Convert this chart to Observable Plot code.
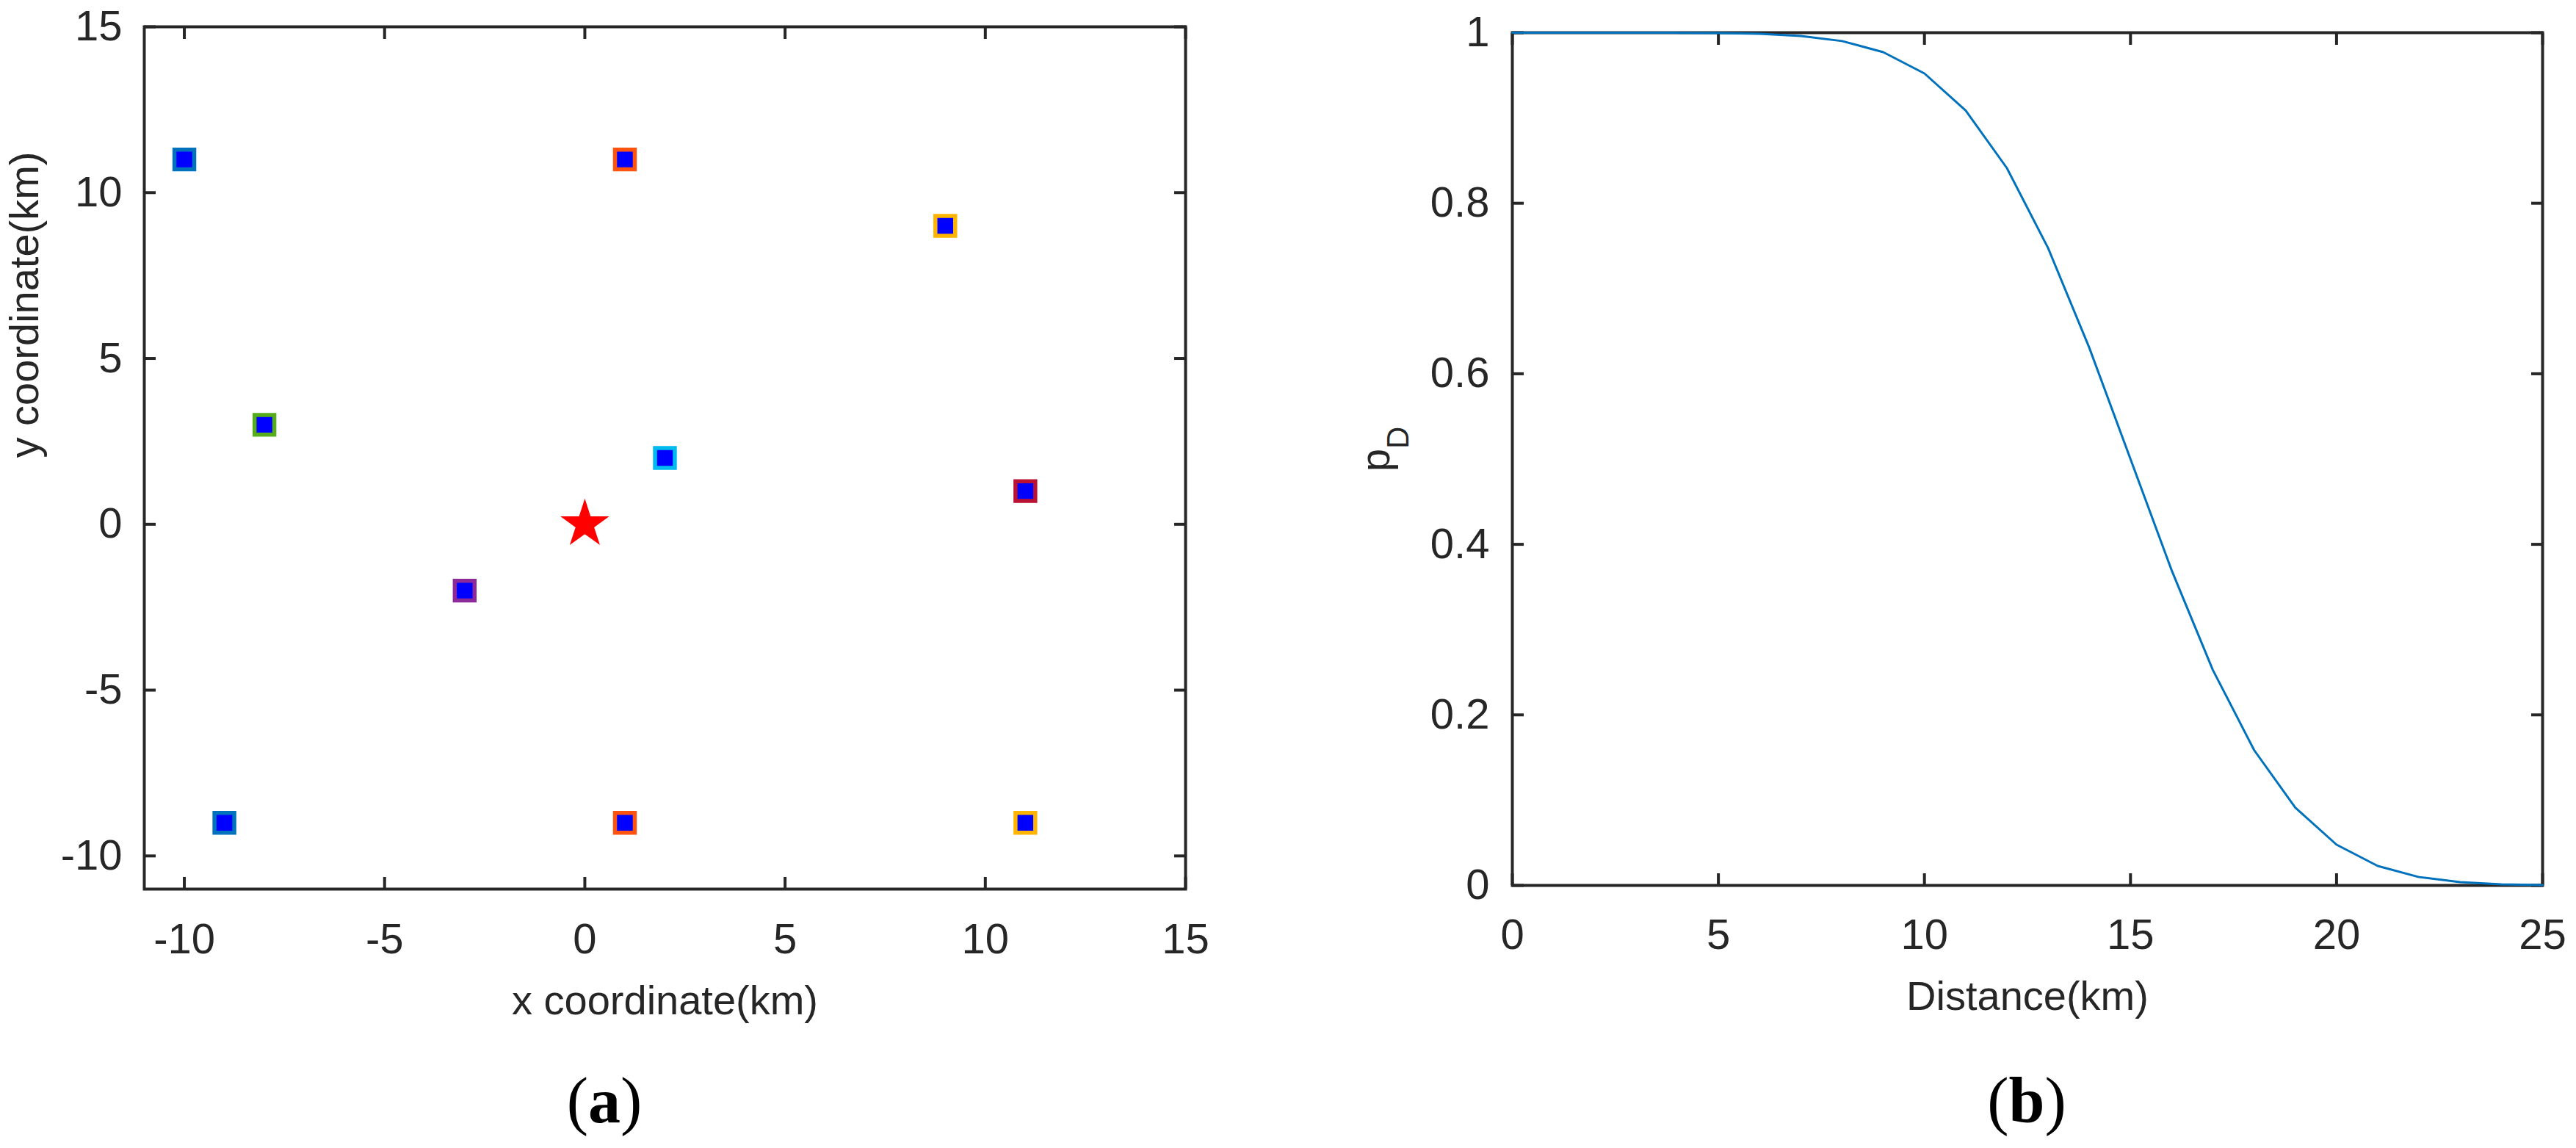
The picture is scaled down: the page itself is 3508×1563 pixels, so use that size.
<!DOCTYPE html>
<html>
<head>
<meta charset="utf-8">
<script src="https://cdn.jsdelivr.net/npm/d3@7"></script>
<script src="https://cdn.jsdelivr.net/npm/@observablehq/plot@0.6"></script>
<style>
  html, body { margin: 0; padding: 0; background: #ffffff; }
  #wrap { position: relative; width: 3508px; height: 1563px; overflow: hidden; background: #ffffff; }
  .panel { position: absolute; top: 0; width: 1754px; height: 1420px; }
  .cap { position: absolute; top: 1455px; width: 400px; text-align: center;
         font-family: "Liberation Serif", "Times New Roman", serif; font-size: 88px;
         line-height: 1; color: #000000; }
  .cap b { font-weight: bold; }
</style>
</head>
<body>
<div id="wrap">
  <div id="pa" class="panel" style="left:0px"></div>
  <div id="pb" class="panel" style="left:1754px"></div>
  <div class="cap" style="left:623px">(<b>a</b>)</div>
  <div class="cap" style="left:2560px">(<b>b</b>)</div>
</div>
<script>
// ---------- data: panel (a) ----------
const sensorX = [-10, 1, 9, -8, 2, 11, -3, -9, 1, 11];
const sensorY = [11, 11, 9, 3, 2, 1, -2, -9, -9, -9];
const sensorGroup = ["g1", "g2", "g3", "g5", "g6", "g7", "g4", "g1", "g2", "g3"];
const groupNames = ["g1", "g2", "g3", "g4", "g5", "g6", "g7"];
const targetX = [0];
const targetY = [0];
const xTicksA = [-10, -5, 0, 5, 10, 15];
const yTicksA = [-10, -5, 0, 5, 10, 15];

// ---------- data: panel (b) ----------
const distance = [0, 1, 2, 3, 4, 5, 6, 7, 8, 9, 10, 11, 12, 13, 14, 15, 16, 17, 18, 19, 20, 21, 22, 23, 24, 25];
const pD = [1.0, 1.0, 1.0, 1.0, 0.9999, 0.9996, 0.9987, 0.9962, 0.9902, 0.9772, 0.9522, 0.9088, 0.8413,
            0.7475, 0.6306, 0.5, 0.3694, 0.2525, 0.1587, 0.0912, 0.0478, 0.0228, 0.0098, 0.0038, 0.0013, 0.0004];
const xTicksB = [0, 5, 10, 15, 20, 25];
const yTicksB = [0, 0.2, 0.4, 0.6, 0.8, 1];

// ---------- styling ----------
const ink = "#262626";
const groupColors = ["#0072BD", "#FF530F", "#FFB400", "#8C2A99", "#56AC1A", "#00BBEE", "#BB1133"];
const tickFmt = d => String(d);
const baseStyle = {fontFamily: "'Liberation Sans', Arial, Helvetica, sans-serif", fontSize: "58px",
                   color: ink, background: "white", overflow: "visible"};

const sensors = sensorX.map((x, i) => ({x, y: sensorY[i], group: sensorGroup[i]}));
const target = targetX.map((x, i) => ({x, y: targetY[i]}));
const curve = distance.map((d, i) => ({d, p: pD[i]}));

function boxAxes(xt, yt, xPad, yPad) {
  return [
    Plot.frame({stroke: ink, strokeWidth: 4}),
    Plot.axisX({anchor: "bottom", ticks: xt, tickSize: -16, tickPadding: xPad, tickFormat: tickFmt,
                stroke: ink, strokeWidth: 4, fill: ink, label: null}),
    Plot.axisX({anchor: "top", ticks: xt, tickSize: -16, fill: "none", stroke: ink, strokeWidth: 4, label: null}),
    Plot.axisY({anchor: "left", ticks: yt, tickSize: -16, tickPadding: yPad, tickFormat: tickFmt,
                stroke: ink, strokeWidth: 4, fill: ink, label: null}),
    Plot.axisY({anchor: "right", ticks: yt, tickSize: -16, fill: "none", stroke: ink, strokeWidth: 4, label: null})
  ];
}

const chartA = Plot.plot({
  width: 1754, height: 1420,
  marginLeft: 196, marginRight: 140, marginTop: 36, marginBottom: 210,
  style: baseStyle,
  x: {domain: [-11, 15]},
  y: {domain: [-11, 15]},
  color: {type: "ordinal", domain: groupNames, range: groupColors},
  marks: [
    ...boxAxes(xTicksA, yTicksA, 62, 46),
    Plot.text(["x coordinate(km)"], {frameAnchor: "bottom", dy: 131, lineAnchor: "top", fontSize: 56, fill: ink}),
    Plot.text(["y coordinate(km)"], {frameAnchor: "left", dx: -184, rotate: -90, lineAnchor: "top", fontSize: 56, fill: ink}),
    Plot.dot(sensors, {x: "x", y: "y", symbol: "square", r: 15.2, fill: "#0000FF", stroke: "group", strokeWidth: 5.5}),
    Plot.dot(target, {x: "x", y: "y", symbol: "star", r: 20.9, fill: "#FF0000", stroke: "none"})
  ]
});
document.getElementById("pa").appendChild(chartA);

const chartB = Plot.plot({
  width: 1754, height: 1420,
  marginLeft: 305, marginRight: 46, marginTop: 44, marginBottom: 215,
  style: baseStyle,
  x: {domain: [0, 25]},
  y: {domain: [0, 1]},
  marks: [
    ...boxAxes(xTicksB, yTicksB, 61, 47),
    Plot.text(["Distance(km)"], {frameAnchor: "bottom", dy: 130, lineAnchor: "top", fontSize: 56, fill: ink}),
    Plot.text(["p"], {frameAnchor: "left", dx: -207, dy: 17, rotate: -90, lineAnchor: "top", fontSize: 56, fill: ink}),
    Plot.text(["D"], {frameAnchor: "left", dx: -171, dy: -14, rotate: -90, lineAnchor: "top", fontSize: 42, fill: ink}),
    Plot.line(curve, {x: "d", y: "p", stroke: "#0072BD", strokeWidth: 3})
  ]
});
document.getElementById("pb").appendChild(chartB);
</script>
</body>
</html>
